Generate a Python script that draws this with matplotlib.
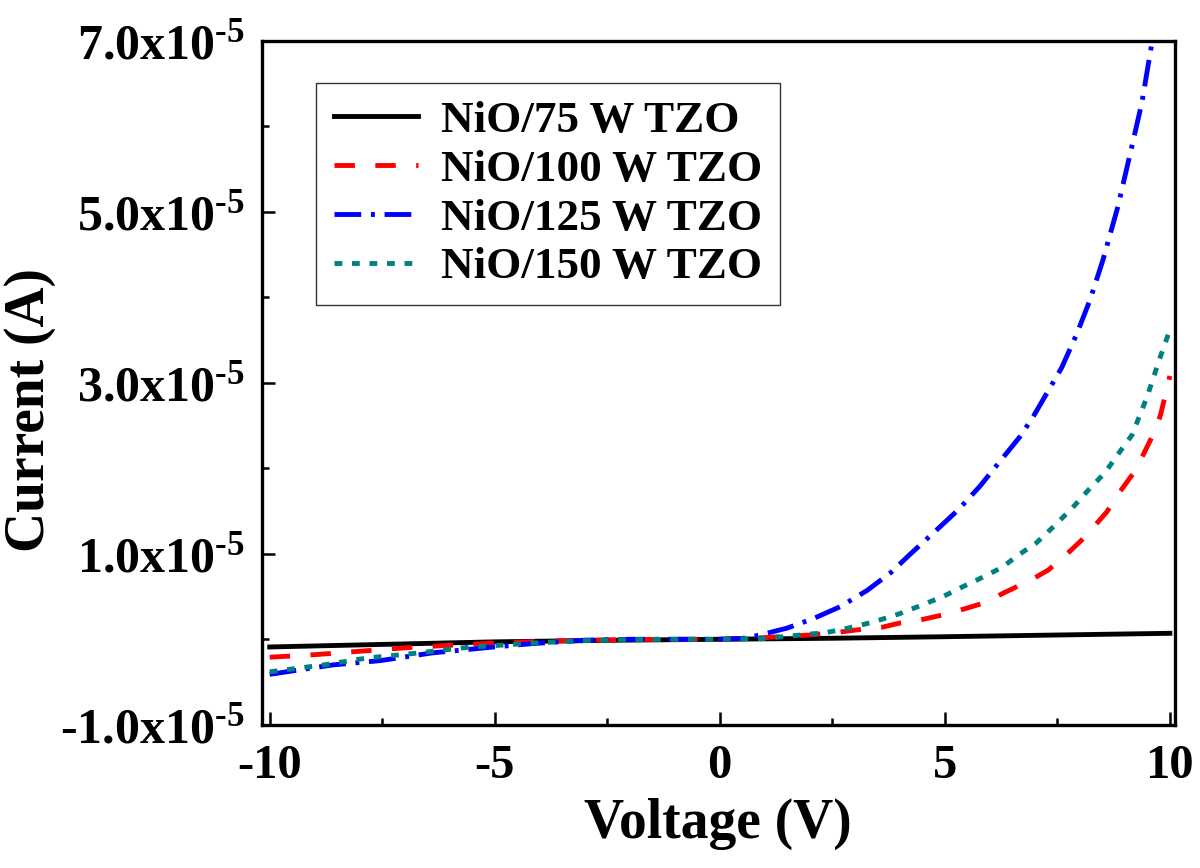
import matplotlib
matplotlib.use('Agg')
import matplotlib.pyplot as plt
from matplotlib.ticker import FixedLocator, FuncFormatter

# I-V data, current in units of 1e-5 A
v_75 = [-10, -7.5, -5, -2.5, 0, 2.5, 5, 7.5, 10]
i_75 = [-0.09, -0.06, -0.03, -0.012, 0.0, 0.012, 0.03, 0.05, 0.07]

v_100 = [-10, -9, -8, -7, -6, -5, -4, -3, -2, -1, 0, 1, 2, 2.6, 3.2, 3.6, 4.0, 4.4,
         5.0, 5.4, 5.9, 6.3, 6.9, 7.3, 7.8, 8.1, 8.6, 8.8, 9.2, 9.4, 9.7, 9.8, 10]
i_100 = [-0.21, -0.18, -0.14, -0.10, -0.07, -0.045, -0.025, -0.01, -0.004, 0.0, 0.0,
         0.02, 0.05, 0.08, 0.12, 0.14, 0.19, 0.22, 0.29, 0.35, 0.43, 0.54, 0.69, 0.81,
         1.04, 1.19, 1.49, 1.66, 1.95, 2.15, 2.47, 2.64, 3.08]

v_125 = [-10, -8.6, -7.55, -6.4, -5.1, -4.15, -3, -2, -1, 0, 0.5, 0.89, 1.49, 2.07,
         2.67, 3.27, 3.8, 4.22, 4.8, 5.29, 5.78, 6.07, 6.67, 6.96, 7.6, 7.93, 8.22,
         8.51, 8.84, 9.11, 9.38, 9.51, 9.6, 10]
i_125 = [-0.41, -0.30, -0.25, -0.16, -0.094, -0.05, -0.01, 0.0, 0.0, 0.0, 0.01, 0.05,
         0.13, 0.24, 0.38, 0.57, 0.78, 0.99, 1.27, 1.51, 1.79, 1.98, 2.37, 2.60, 3.18,
         3.57, 3.96, 4.43, 5.05, 5.66, 6.28, 6.69, 6.97, 8.1]

v_150 = [-10, -8.8, -7.85, -6.7, -5.6, -4.9, -4, -3, -2, -1, 0, 1, 1.6, 2.38, 2.84,
         3.4, 4.0, 4.49, 4.96, 5.38, 5.78, 6.27, 6.62, 7.04, 7.44, 7.84, 8.18, 8.56,
         8.87, 9.16, 9.49, 9.78, 10]
i_150 = [-0.38, -0.30, -0.22, -0.16, -0.094, -0.07, -0.04, -0.015, -0.003, 0.0, 0.0,
         0.01, 0.04, 0.08, 0.13, 0.20, 0.30, 0.40, 0.50, 0.61, 0.71, 0.84, 0.98, 1.13,
         1.33, 1.54, 1.74, 1.95, 2.18, 2.39, 2.83, 3.29, 3.62]

labels = ['NiO/75 W TZO', 'NiO/100 W TZO', 'NiO/125 W TZO', 'NiO/150 W TZO']
colors = ['black', 'red', 'blue', '#008080']

x_major = [-10, -5, 0, 5, 10]
x_minor = [-7.5, -2.5, 2.5, 7.5]
y_major = [-1e-5, 1e-5, 3e-5, 5e-5, 7e-5]
y_minor = [0, 2e-5, 4e-5, 6e-5]

plt.rcParams['font.family'] = ['Liberation Serif', 'DejaVu Serif']
plt.rcParams['font.weight'] = 'bold'
plt.rcParams['mathtext.fontset'] = 'custom'
plt.rcParams['mathtext.rm'] = 'Liberation Serif:bold'
plt.rcParams['mathtext.bf'] = 'Liberation Serif:bold'
plt.rcParams['mathtext.it'] = 'Liberation Serif:bold'
plt.rcParams['axes.unicode_minus'] = False


def y_fmt(val, pos):
    return '%.1fx10$^{\\text{-5}}$' % (val / 1e-5)


fig = plt.figure(figsize=(12, 8.68), dpi=100)
ax = fig.add_axes([0.218, 0.165, 0.761, 0.788])

lw = 3.5
scale = 1e-5
ax.plot(v_75, [i * scale for i in i_75], color=colors[0], lw=lw, label=labels[0])
ax.plot(v_100, [i * scale for i in i_100], color=colors[1], lw=lw, label=labels[1],
        dashes=(4.2, 4.2))
ax.plot(v_125, [i * scale for i in i_125], color=colors[2], lw=lw, label=labels[2],
        dashes=(5.5, 2, 0.8, 2))
ax.plot(v_150, [i * scale for i in i_150], color=colors[3], lw=lw, label=labels[3],
        dashes=(1.6, 2.0))

ax.set_xlim(-10.18, 10.11)
ax.set_ylim(-1e-5, 7e-5)

ax.xaxis.set_major_locator(FixedLocator(x_major))
ax.xaxis.set_minor_locator(FixedLocator(x_minor))
ax.yaxis.set_major_locator(FixedLocator(y_major))
ax.yaxis.set_minor_locator(FixedLocator(y_minor))
ax.xaxis.set_major_formatter(FuncFormatter(lambda v, p: '%d' % v))
ax.yaxis.set_major_formatter(FuncFormatter(y_fmt))

ax.tick_params(which='both', direction='in', top=False, right=False, width=1.8)
ax.tick_params(which='major', length=9.5)
ax.tick_params(which='minor', length=5)
ax.tick_params(axis='x', pad=14, labelsize=35)
ax.tick_params(axis='y', pad=12, labelsize=36)
for sp in ax.spines.values():
    sp.set_linewidth(2.4)

ax.set_xlabel('Voltage (V)', fontsize=40, fontweight='bold')
ax.set_ylabel('Current (A)', fontsize=40, fontweight='bold')
ax.xaxis.set_label_coords(0.5, -0.107)
ax.yaxis.set_label_coords(-0.225, 0.46)

leg = ax.legend(loc='upper left', bbox_to_anchor=(0.06, 0.939), borderaxespad=0,
                fontsize=32.5, frameon=True, fancybox=False, framealpha=1,
                edgecolor='#333333', handlelength=1.85, handletextpad=0.5,
                labelspacing=0.18, borderpad=0.4)
leg.get_frame().set_linewidth(1.0)

fig.savefig('out.png', dpi=100)
